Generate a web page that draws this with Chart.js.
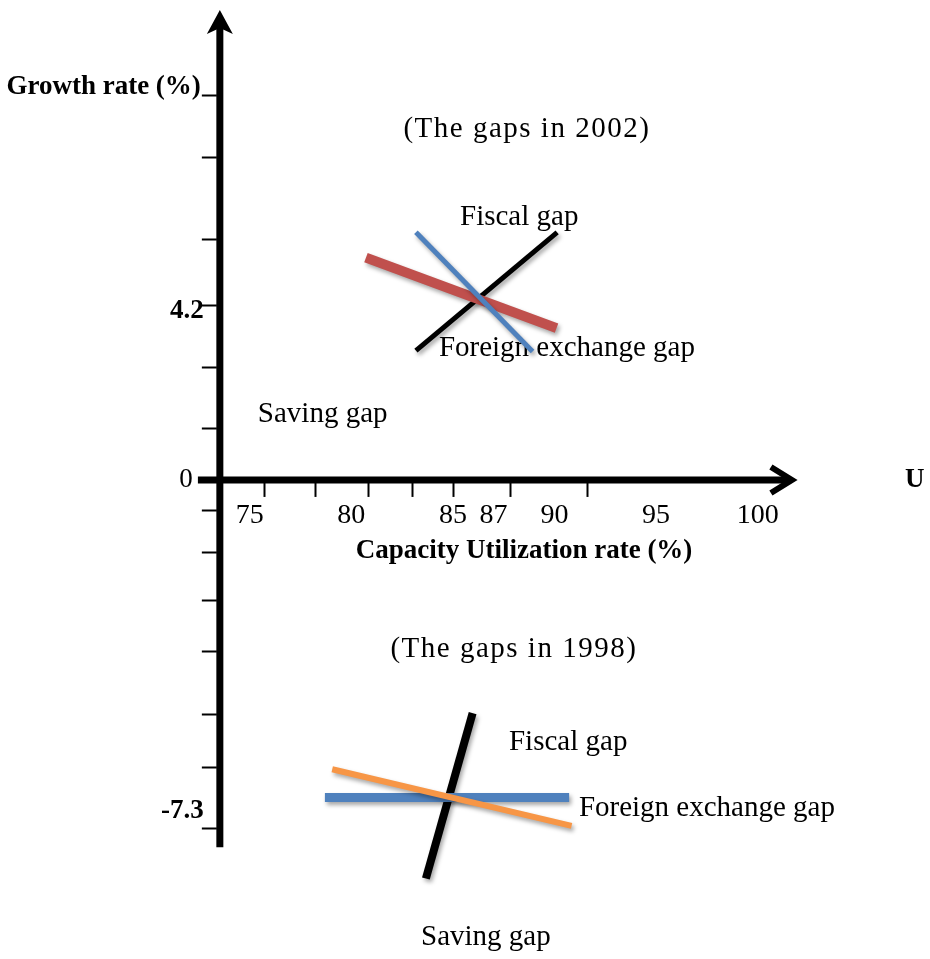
<!DOCTYPE html>
<html lang="en">
<head>
    <meta charset="UTF-8">
    <title>The gaps in 1998 and 2002</title>
    <script src="https://cdn.jsdelivr.net/npm/chart.js"></script>
    <style>
        html, body { margin: 0; padding: 0; background: #fff; }
        #wrap { width: 930px; height: 959px; }
    </style>
</head>
<body>
<div id="wrap"><canvas id="chartGaps" width="930" height="959"></canvas></div>
<script>
    // tick labels (capacity utilization %, growth %)
    var xTickLabels = ['75', '80', '85', '87', '90', '95', '100'];
    var xTickValues = [75, 80, 85, 87, 90, 95, 100];
    var yTickLabels = ['4.2', '0', '-7.3'];
    var yTickValues = [4.2, 0, -7.3];
    // small tick marks along the axes (as drawn in the original)
    var xTickMarks = [75.7, 78.2, 80.8, 83.0, 85.0, 87.8, 91.6];
    var yTickMarks = [8.85, 7.43, 5.54, 4.02, 2.60, 1.20, -0.69, -1.66, -2.76, -3.93, -5.38, -6.60, -8.00];

    // 2002 gap lines: [start, end]
    var fiscal2002U = [83.18, 90.13];
    var fiscal2002G = [2.97, 5.69];
    var foreign2002U = [83.18, 88.92];
    var foreign2002G = [5.69, 2.95];
    var saving2002U = [80.72, 90.10];
    var saving2002G = [5.11, 3.49];

    // 1998 gap lines: [start, end]
    var fiscal1998U = [85.97, 83.67];
    var fiscal1998G = [-5.36, -9.16];
    var foreign1998U = [78.70, 90.72];
    var foreign1998G = [-7.3, -7.3];
    var saving1998U = [79.06, 90.84];
    var saving1998G = [-6.65, -7.95];

    function pts(us, gs) {
        return us.map(function (u, i) { return { x: u, y: gs[i] }; });
    }

    function line(label, us, gs, color, width, order) {
        return {
            label: label,
            data: pts(us, gs),
            showLine: true,
            borderColor: color,
            backgroundColor: color,
            borderWidth: width,
            pointRadius: 0,
            order: order
        };
    }

    // where the axes sit and end, in data units
    var yAxisAtU = 73.53;
    var yAxisTop = 10.8, yAxisBottom = -8.44;
    var xAxisLeft = 72.45, xAxisRight = 101.93;

    var serif = '"Liberation Serif", "Times New Roman", serif';

    // free text on the diagram: [text, u, g, align, letterSpacing]
    var notes = [
        ['(The gaps in 2002)', 88.64, 7.885, 'center', '1.5px'],
        ['Fiscal gap', 85.35, 5.86, 'left', '0px'],
        ['Foreign exchange gap', 84.31, 2.85, 'left', '0px'],
        ['Saving gap', 75.40, 1.33, 'left', '0px'],
        ['(The gaps in 1998)', 88.0, -4.07, 'center', '1.5px'],
        ['Fiscal gap', 87.76, -6.21, 'left', '0px'],
        ['Foreign exchange gap', 91.20, -7.72, 'left', '0px'],
        ['Saving gap', 83.43, -10.69, 'left', '0px']
    ];

    var axesPlugin = {
        id: 'gapAxes',
        beforeDatasetsDraw: function (chart) {
            var ctx = chart.ctx, x = chart.scales.x, y = chart.scales.y;
            var ax = x.getPixelForValue(yAxisAtU), ay = y.getPixelForValue(0);
            ctx.save();
            ctx.strokeStyle = '#000';
            ctx.fillStyle = '#000';

            // growth axis with arrow
            var tip = y.getPixelForValue(yAxisTop);
            ctx.lineWidth = 7;
            ctx.beginPath();
            ctx.moveTo(ax, y.getPixelForValue(yAxisBottom));
            ctx.lineTo(ax, tip + 18);
            ctx.stroke();
            ctx.beginPath();
            ctx.moveTo(ax, tip);
            ctx.lineTo(ax + 13, tip + 24);
            ctx.lineTo(ax, tip + 18);
            ctx.lineTo(ax - 13, tip + 24);
            ctx.closePath();
            ctx.fill();

            // utilization axis with open arrow
            var xl = x.getPixelForValue(xAxisLeft), xr = x.getPixelForValue(xAxisRight);
            ctx.beginPath();
            ctx.moveTo(xl, ay);
            ctx.lineTo(xr - 6, ay);
            ctx.stroke();
            ctx.lineWidth = 6;
            ctx.lineJoin = 'miter';
            ctx.beginPath();
            ctx.moveTo(xr - 26, ay - 13);
            ctx.lineTo(xr - 5, ay);
            ctx.lineTo(xr - 26, ay + 13);
            ctx.stroke();

            // tick marks
            ctx.lineWidth = 2;
            yTickMarks.forEach(function (g) {
                var py = Math.round(y.getPixelForValue(g)) + 0.5;
                ctx.beginPath();
                ctx.moveTo(ax - 18, py);
                ctx.lineTo(ax - 3, py);
                ctx.stroke();
            });
            xTickMarks.forEach(function (u) {
                var px = Math.round(x.getPixelForValue(u)) + 0.5;
                ctx.beginPath();
                ctx.moveTo(px, ay);
                ctx.lineTo(px, ay + 17);
                ctx.stroke();
            });

            // tick labels
            ctx.font = '28px ' + serif;
            ctx.textAlign = 'center';
            ctx.textBaseline = 'alphabetic';
            xTickLabels.forEach(function (t, i) {
                ctx.fillText(t, x.getPixelForValue(xTickValues[i]), ay + 43);
            });
            ctx.textAlign = 'right';
            yTickLabels.forEach(function (t, i) {
                var py = y.getPixelForValue(yTickValues[i]);
                if (yTickValues[i] === 0) {
                    ctx.font = '27px ' + serif;
                    ctx.textBaseline = 'middle';
                    ctx.fillText(t, ax - 27, py);
                } else {
                    ctx.font = 'bold 27px ' + serif;
                    ctx.textBaseline = 'top';
                    ctx.fillText(t, ax - 16, py);
                }
            });

            // axis titles
            ctx.font = 'bold 27px ' + serif;
            ctx.textBaseline = 'alphabetic';
            ctx.textAlign = 'right';
            ctx.fillText('Growth rate (%)', ax - 19, y.getPixelForValue(yTickMarks[0]) - 1);
            ctx.textAlign = 'center';
            ctx.fillText('Capacity Utilization rate (%)', x.getPixelForValue(88.5), ay + 78);
            ctx.textAlign = 'left';
            ctx.textBaseline = 'middle';
            ctx.fillText('U', x.getPixelForValue(107.25), ay);

            // notes
            ctx.font = '29px ' + serif;
            ctx.textBaseline = 'alphabetic';
            notes.forEach(function (n) {
                ctx.textAlign = n[3];
                ctx.letterSpacing = n[4];
                ctx.fillText(n[0], x.getPixelForValue(n[1]), y.getPixelForValue(n[2]));
            });
            ctx.restore();
        }
    };

    // soft drop shadow under the gap lines
    var shadowPlugin = {
        id: 'lineShadow',
        beforeDatasetDraw: function (chart) {
            var ctx = chart.ctx;
            ctx.save();
            ctx.shadowColor = 'rgba(0, 0, 0, 0.35)';
            ctx.shadowBlur = 4;
            ctx.shadowOffsetX = 2;
            ctx.shadowOffsetY = 3;
        },
        afterDatasetDraw: function (chart) {
            chart.ctx.restore();
        }
    };

    var ctxGaps = document.getElementById('chartGaps').getContext('2d');
    var chartGaps = new Chart(ctxGaps, {
        type: 'scatter',
        data: {
            datasets: [
                line('Fiscal gap 2002', fiscal2002U, fiscal2002G, '#000000', 5, 6),
                line('Saving gap 2002', saving2002U, saving2002G, '#c0504d', 10, 5),
                line('Foreign exchange gap 2002', foreign2002U, foreign2002G, '#4f81bd', 5, 4),
                line('Fiscal gap 1998', fiscal1998U, fiscal1998G, '#000000', 8, 3),
                line('Foreign exchange gap 1998', foreign1998U, foreign1998G, '#4f81bd', 9, 2),
                line('Saving gap 1998', saving1998U, saving1998G, '#f79646', 6, 1)
            ]
        },
        options: {
            responsive: false,
            animation: false,
            layout: { padding: 0 },
            plugins: {
                legend: { display: false },
                tooltip: { enabled: false }
            },
            scales: {
                x: { type: 'linear', display: false, min: 62.71, max: 108.48 },
                y: { type: 'linear', display: false, min: -11.01, max: 11.03 }
            }
        },
        plugins: [axesPlugin, shadowPlugin]
    });
</script>
</body>
</html>
